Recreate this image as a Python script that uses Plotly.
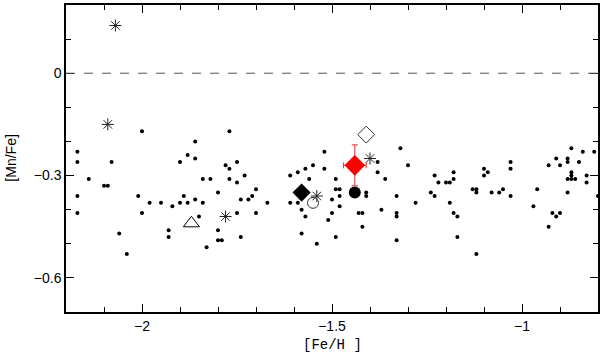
import plotly.graph_objects as go

# field stars, small dots
feh = [-2.00, -2.17, -2.17, -2.08, -2.14, -2.10, -2.09, -2.17, -2.01, -1.98, -2.17, -2.00, -2.06, -2.04,
       -1.77, -1.86, -1.88, -1.86, -1.90, -1.78, -1.75, -1.77, -1.73, -1.84, -1.82, -1.77, -1.75, -1.80,
       -1.89, -1.74, -1.95, -1.92, -1.90, -1.88, -1.86, -1.84, -1.75, -1.85, -1.93, -1.93, -1.80, -1.80,
       -1.79, -1.74, -1.83,
       -1.52, -1.55, -1.52, -1.57, -1.59, -1.61, -1.56, -1.49, -1.70, -1.49, -1.71, -1.72, -1.67, -1.61,
       -1.59, -1.50, -1.70, -1.58, -1.57, -1.50, -1.51, -1.58, -1.54, -1.49,
       -1.32, -1.38, -1.30, -1.38, -1.36, -1.48, -1.48, -1.41, -1.41, -1.33, -1.28, -1.48, -1.37, -1.43,
       -1.42, -1.33, -1.33, -1.42, -1.33,
       -1.03, -1.03, -1.10, -1.09, -1.10, -1.18, -1.23, -1.18, -1.22, -1.20, -1.19, -1.24, -1.23, -1.13,
       -1.12, -1.12, -1.08, -1.06, -1.05, -1.03, -1.19, -1.18, -1.17, -1.17, -1.12,
       -0.87, -0.84, -0.81, -0.91, -0.88, -0.88, -0.93, -0.90, -0.85, -0.87, -0.87, -0.88, -0.87, -0.86,
       -0.83, -0.83, -0.96, -0.88, -0.97, -0.92, -0.90, -0.91, -0.93, -0.80]
mnfe = [-0.17, -0.23, -0.26, -0.26, -0.31, -0.33, -0.33, -0.36, -0.36, -0.38, -0.41, -0.41, -0.47, -0.53,
        -0.17, -0.20, -0.24, -0.25, -0.26, -0.27, -0.26, -0.28, -0.30, -0.31, -0.31, -0.31, -0.32, -0.35,
        -0.36, -0.37, -0.38, -0.39, -0.38, -0.38, -0.37, -0.38, -0.41, -0.42, -0.46, -0.48, -0.46, -0.49,
        -0.49, -0.48, -0.51,
        -0.23, -0.27, -0.28, -0.28, -0.29, -0.30, -0.31, -0.31, -0.34, -0.34, -0.36, -0.37, -0.38, -0.38,
        -0.38, -0.37, -0.41, -0.40, -0.42, -0.41, -0.43, -0.47, -0.50, -0.48,
        -0.22, -0.26, -0.27, -0.29, -0.31, -0.34, -0.36, -0.35, -0.36, -0.36, -0.38, -0.39, -0.40, -0.41,
        -0.41, -0.41, -0.42, -0.45, -0.49,
        -0.26, -0.28, -0.28, -0.29, -0.30, -0.29, -0.30, -0.31, -0.32, -0.32, -0.32, -0.35, -0.36, -0.34,
        -0.34, -0.35, -0.35, -0.35, -0.34, -0.36, -0.38, -0.41, -0.42, -0.48, -0.53,
        -0.22, -0.23, -0.23, -0.25, -0.25, -0.26, -0.27, -0.27, -0.26, -0.29, -0.30, -0.31, -0.31, -0.31,
        -0.30, -0.32, -0.34, -0.35, -0.39, -0.41, -0.41, -0.42, -0.45, -0.36]

# other samples
ast_feh = [-2.07, -2.09, -1.78, -1.54, -1.40]
ast_mnfe = [0.14, -0.15, -0.42, -0.36, -0.25]
tri_feh, tri_mnfe = [-1.87], [-0.44]
dia_feh, dia_mnfe = [-1.58], [-0.35]
ocirc_feh, ocirc_mnfe = [-1.55], [-0.38]
circ_feh, circ_mnfe = [-1.44], [-0.35]
odia_feh, odia_mnfe = [-1.41], [-0.18]

# this star
star_feh, star_mnfe = [-1.44], [-0.27]
star_err_feh, star_err_mnfe = [0.03], [0.06]

x_ticks = [-2, -1.5, -1]
x_labels = ["\u22122", "\u22121.5", "\u22121"]
y_ticks = [-0.6, -0.3, 0]
y_labels = ["\u22120.6", "\u22120.3", "0"]

fig = go.Figure()

fig.add_shape(type="line", xref="paper", x0=0, x1=1, y0=0, y1=0,
              line=dict(color="#555555", width=1, dash="dash"))

fig.add_trace(go.Scatter(x=feh, y=mnfe, mode="markers",
                         marker=dict(size=4, color="black")))
fig.add_trace(go.Scatter(x=ast_feh, y=ast_mnfe, mode="markers",
                         marker=dict(symbol="asterisk-open", size=10, color="#222222",
                                     line=dict(color="#222222", width=1))))
fig.add_trace(go.Scatter(x=tri_feh, y=tri_mnfe, mode="markers",
                         marker=dict(symbol="triangle-up-open", size=14, color="black",
                                     line=dict(width=1))))
fig.add_trace(go.Scatter(x=dia_feh, y=dia_mnfe, mode="markers",
                         marker=dict(symbol="diamond", size=14, color="black")))
fig.add_trace(go.Scatter(x=ocirc_feh, y=ocirc_mnfe, mode="markers",
                         marker=dict(symbol="circle-open", size=11, color="#333333",
                                     line=dict(width=1))))
fig.add_trace(go.Scatter(x=circ_feh, y=circ_mnfe, mode="markers",
                         marker=dict(symbol="circle", size=12, color="black")))
fig.add_trace(go.Scatter(x=odia_feh, y=odia_mnfe, mode="markers",
                         marker=dict(symbol="diamond-open", size=13, color="#333333",
                                     line=dict(width=1))))
fig.add_trace(go.Scatter(x=star_feh, y=star_mnfe, mode="markers",
                         error_x=dict(type="data", array=star_err_feh, color="#e03030",
                                      thickness=1, width=3),
                         error_y=dict(type="data", array=star_err_mnfe, color="#e03030",
                                      thickness=1, width=3),
                         marker=dict(symbol="diamond", size=16, color="red")))

axis_common = dict(
    showgrid=False, zeroline=False, showline=True, linecolor="black", linewidth=1.5,
    mirror="allticks", ticks="inside", ticklen=8, tickwidth=1, tickcolor="black",
    automargin=False,
    tickfont=dict(family="Liberation Sans", size=14, color="black"),
)

fig.update_layout(
    width=600, height=352,
    margin=dict(l=66, r=2, t=5, b=40),
    plot_bgcolor="white", paper_bgcolor="white",
    showlegend=False,
    xaxis=dict(range=[-2.2, -0.8], tickvals=x_ticks, ticktext=x_labels,
               minor=dict(dtick=0.1, tick0=0, ticks="inside", ticklen=5, tickcolor="black"),
               **axis_common),
    yaxis=dict(range=[-0.7, 0.2], tickvals=y_ticks, ticktext=y_labels,
               minor=dict(dtick=0.1, tick0=0, ticks="inside", ticklen=5, tickcolor="black"),
               **axis_common),
    annotations=[
        dict(text="[Fe/H ]", xref="paper", yref="paper", x=0.5, y=-0.107,
             showarrow=False, yanchor="middle",
             font=dict(family="Liberation Mono", size=14, color="black")),
        dict(text="[Mn/Fe]", xref="paper", yref="paper", x=-0.105, y=0.5,
             showarrow=False, textangle=-90, xanchor="center", yanchor="middle",
             font=dict(family="Liberation Sans", size=14, color="black")),
    ],
)

fig.write_html("out.html", config={"displayModeBar": False},
               post_script="document.body.style.margin='0';")
